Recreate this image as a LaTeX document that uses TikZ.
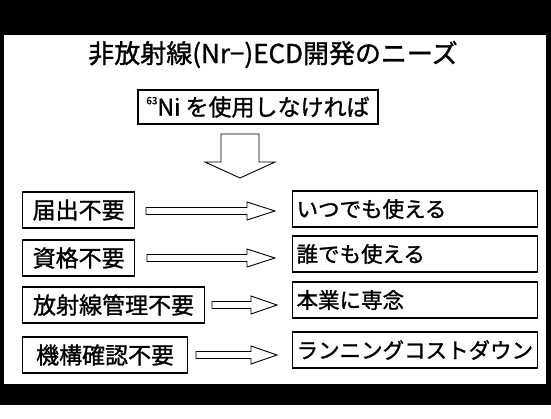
\documentclass[tikz,border=0pt]{standalone}
\usepackage{fontspec}
\newfontfamily\jp{Noto Sans CJK JP}[FakeBold=1.2]
\usetikzlibrary{calc}
\tikzset{
  box/.style={draw=black, line width=1.2pt, inner sep=0pt, minimum height=36pt,
    font=\jp\fontsize{23}{23}\selectfont, anchor=west},
  rbox/.style={box, font=\jp\fontsize{21.5}{21.5}\selectfont, text width=237pt,
    minimum width=245pt, align=left, inner xsep=4pt},
  hollow/.style={draw=black, line width=0.9pt, fill=white, line join=miter},
}
% horizontal block arrow: start, tip, shaft half height, head half height, head length
\newcommand\harrow[5]{%
  \draw[hollow] let \p1=(#1), \p2=(#2) in
    (\x1,\y1+#3) -- (\x2-#5,\y1+#3) -- (\x2-#5,\y1+#4) -- (\x2,\y1)
    -- (\x2-#5,\y1-#4) -- (\x2-#5,\y1-#3) -- (\x1,\y1-#3) -- cycle;}
\begin{document}
\begin{tikzpicture}[x=1pt,y=-1pt]
\useasboundingbox (0,0) rectangle (551,418);
% frame
\fill[white] (0,0) rectangle (551,418);
\fill[black] (0,0) rectangle (551,35);
\fill[black] (0,384) rectangle (551,405);
\fill[black] (0,0) rectangle (4,405);
\fill[black] (546,0) rectangle (551,405);
% title
\node[font=\jp\fontsize{26}{26}\selectfont, anchor=base] (title) at (273,63)
  {非放射線(Nr−)ECD開発のニーズ};
% top box
\node[box, anchor=center, minimum width=240pt, minimum height=34pt] (ni) at (258,107)
  {\raisebox{0.5em}{\fontsize{10}{10}\selectfont 63}Ni を使用しなければ};
% down arrow
\coordinate (dtop) at (240,134);
\coordinate (dtip) at (240,178);
\draw[hollow] let \p1=(dtop), \p2=(dtip) in
  (\x1-19pt,\y1) -- (\x1+19pt,\y1) -- (\x1+19pt,\y2+16pt) -- (\x1+35pt,\y2+16pt)
  -- (\x2,\y2) -- (\x1-35pt,\y2+16pt) -- (\x1-19pt,\y2+16pt) -- cycle;
% left boxes
\node[box, minimum width=112pt] (l1) at (22,210) {届出不要};
\node[box, minimum width=112pt] (l2) at (22,258) {資格不要};
\node[box, minimum width=182pt] (l3) at (22,305) {放射線管理不要};
\node[box, minimum width=165pt] (l4) at (22,355) {機構確認不要};
% right boxes
\node[rbox] (r1) at (292,209) {いつでも使える};
\node[rbox] (r2) at (292,254) {誰でも使える};
\node[rbox] (r3) at (292,300) {本業に専念};
\node[rbox] (r4) at (292,350) {ランニングコストダウン};
% arrows
\coordinate (a1s) at (146,211); \coordinate (a1e) at (275,211);
\coordinate (a2s) at (147,258); \coordinate (a2e) at (275,258);
\coordinate (a3s) at (212,305); \coordinate (a3e) at (277,305);
\coordinate (a4s) at (196,355); \coordinate (a4e) at (277,355);
\harrow{a1s}{a1e}{3.5pt}{9pt}{28pt}
\harrow{a2s}{a2e}{3.5pt}{9pt}{28pt}
\harrow{a3s}{a3e}{3.5pt}{9pt}{26pt}
\harrow{a4s}{a4e}{3.5pt}{9pt}{26pt}
\end{tikzpicture}
\end{document}
